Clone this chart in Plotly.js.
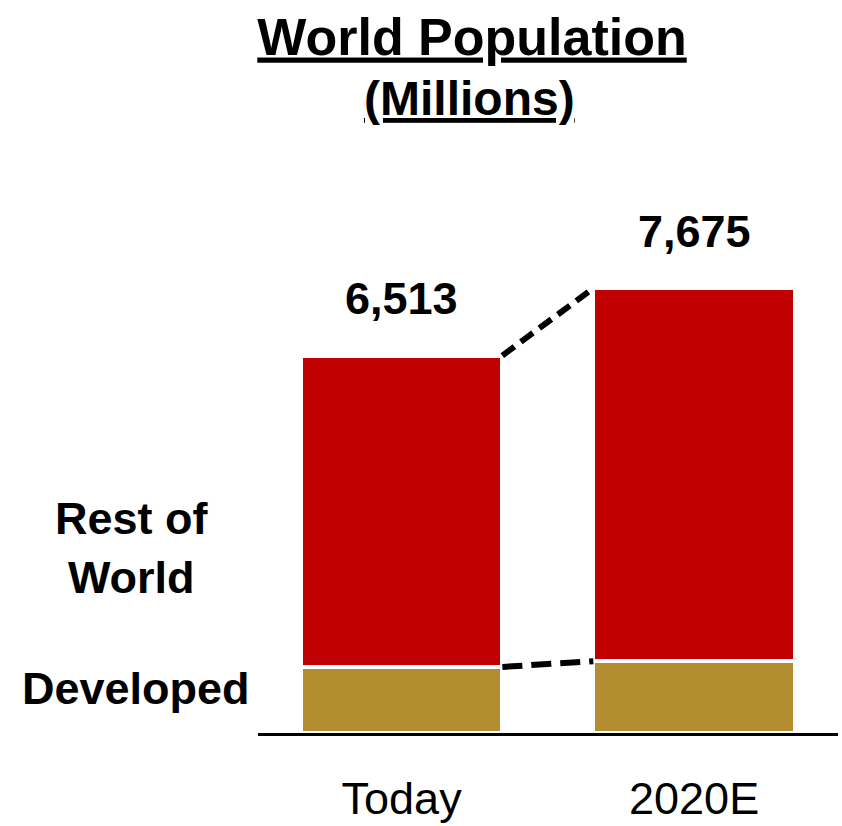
<!DOCTYPE html>
<html>
<head>
<meta charset="utf-8">
<script src="https://cdn.plot.ly/plotly-3.0.1.min.js"></script>
<style>html,body{margin:0;padding:0;background:#fff;}#chart{width:842px;height:826px;}</style>
</head>
<body>
<div id="chart"></div>
<script>
// ---- data ----
const categories = ["Today", "2020E"];
const totals = [6513, 7675];
const developed = [1140, 1240];
const restOfWorld = totals.map((t, i) => t - developed[i]);
const totalLabels = ["6,513", "7,675"];
const seriesNames = ["Developed", "Rest of World"];

// ---- styling ----
const xPos = categories.map((c, i) => i);
const barW = 0.689;
const half = barW / 2;
const RED = "#C00000";
const GOLD = "#B28E30";
const FONT = "Liberation Sans, Arial, sans-serif";

const traces = [
  {
    type: "bar", name: seriesNames[0], x: xPos, y: developed, width: barW,
    marker: {color: GOLD, line: {color: "#ffffff", width: 4}},
    hoverinfo: "skip", showlegend: false
  },
  {
    type: "bar", name: seriesNames[1], x: xPos, y: restOfWorld, width: barW,
    marker: {color: RED, line: {color: "#ffffff", width: 4}},
    hoverinfo: "skip", showlegend: false
  },
  {
    type: "scatter", mode: "lines",
    x: [xPos[0] + half, xPos[1] - half], y: [totals[0], totals[1]],
    line: {color: "#000", width: 6, dash: "15px,8px"},
    hoverinfo: "skip", showlegend: false, cliponaxis: false
  },
  {
    type: "scatter", mode: "lines",
    x: [xPos[0] + half, xPos[1] - half], y: [developed[0], developed[1]],
    line: {color: "#000", width: 6, dash: "20px,9px"},
    hoverinfo: "skip", showlegend: false, cliponaxis: false
  }
];

const annotations = totals.map((t, i) => ({
  x: xPos[i], y: t, xref: "x", yref: "y",
  text: "<b>" + totalLabels[i] + "</b>",
  showarrow: false, yanchor: "middle", yshift: 57,
  font: {family: FONT, size: 45, color: "#000"}
}));
annotations.push({
  x: 0.365, y: 1.245, xref: "paper", yref: "paper",
  text: "<b><u>(Millions)</u></b>", showarrow: false,
  xanchor: "center", yanchor: "middle",
  font: {family: FONT, size: 48, color: "#000"}
});
annotations.push({
  x: -0.2175, y: 0.362, xref: "paper", yref: "paper",
  text: "<b>Rest of<br>World</b>", showarrow: false,
  xanchor: "center", yanchor: "middle", align: "center",
  font: {family: FONT, size: 45, color: "#000"}
});
annotations.push({
  x: -0.2106, y: 0.088, xref: "paper", yref: "paper",
  text: "<b>" + seriesNames[0] + "</b>", showarrow: false,
  xanchor: "center", yanchor: "middle",
  font: {family: FONT, size: 45, color: "#000"}
});

const layout = {
  width: 842, height: 826,
  margin: {l: 258, r: 4, t: 223, b: 93},
  paper_bgcolor: "#fff", plot_bgcolor: "#fff",
  barmode: "stack",
  title: {
    text: "<b><u>World Population</u></b>",
    x: 0.5606, xanchor: "center", xref: "container",
    y: 0.956, yanchor: "middle", yref: "container",
    font: {family: FONT, size: 52, color: "#000"}
  },
  xaxis: {
    range: [-0.491, 1.492], tickvals: xPos, ticktext: categories,
    showline: true, linecolor: "#000", linewidth: 3,
    showgrid: false, zeroline: false, ticks: "",
    ticklabelstandoff: 24,
    tickfont: {family: FONT, size: 45, color: "#000"},
    fixedrange: true
  },
  yaxis: {
    range: [0, 8800], visible: false, showgrid: false, zeroline: false, fixedrange: true
  },
  annotations: annotations,
  showlegend: false
};

Plotly.newPlot("chart", traces, layout, {displayModeBar: false, staticPlot: true});
</script>
</body>
</html>
